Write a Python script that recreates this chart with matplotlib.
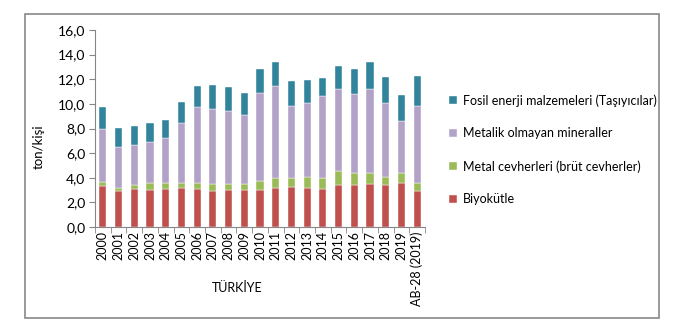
import matplotlib.pyplot as plt
from matplotlib.patches import Rectangle
import numpy as np

categories = ["2000", "2001", "2002", "2003", "2004", "2005", "2006", "2007", "2008",
              "2009", "2010", "2011", "2012", "2013", "2014", "2015", "2016", "2017",
              "2018", "2019", "AB-28 (2019)"]

biyokutle = [3.34, 2.93, 3.07, 2.99, 3.07, 3.17, 3.12, 2.93, 2.99, 3.04, 3.04,
             3.17, 3.25, 3.17, 3.07, 3.42, 3.42, 3.53, 3.42, 3.61, 2.90]
metal = [0.35, 0.27, 0.32, 0.56, 0.48, 0.44, 0.49, 0.60, 0.54, 0.49, 0.68,
         0.77, 0.77, 0.90, 0.95, 1.11, 0.97, 0.86, 0.65, 0.78, 0.65]
metalik_olmayan = [4.26, 3.28, 3.26, 3.34, 3.69, 4.80, 6.10, 6.02, 5.91, 5.53, 7.18,
                   7.48, 5.83, 5.97, 6.59, 6.67, 6.41, 6.81, 5.97, 4.18, 6.24]
fosil = [1.79, 1.58, 1.54, 1.52, 1.47, 1.76, 1.76, 1.98, 1.90, 1.79, 1.96,
         1.98, 2.03, 1.90, 1.51, 1.85, 2.06, 2.20, 2.16, 2.17, 2.49]

series = [
    ("Biyokütle", biyokutle, "#C0504D"),
    ("Metal cevherleri (brüt cevherler)", metal, "#9BBB59"),
    ("Metalik olmayan mineraller", metalik_olmayan, "#B3A2C7"),
    ("Fosil enerji malzemeleri (Taşıyıcılar)", fosil, "#31849B"),
]

plt.rcParams['font.family'] = ['Lato', 'DejaVu Sans']

W, H = 673, 329
fig = plt.figure(figsize=(W / 100, H / 100), dpi=100)
ax = fig.add_axes([95 / W, (H - 227) / H, 330 / W, 197 / H])

x = np.arange(len(categories))
bottom = np.zeros(len(categories))
handles = {}
for name, vals, color in series:
    b = ax.bar(x, vals, width=0.45, bottom=bottom, color=color,
               edgecolor="white", linewidth=0.3, label=name)
    handles[name] = b
    bottom += np.array(vals)

ax.set_xlim(-0.5, len(categories) - 0.5)
ax.set_ylim(0, 16)
ax.set_yticks(np.arange(0, 17, 2))
ax.set_yticklabels([("%.1f" % v).replace(".", ",") for v in np.arange(0, 17, 2)],
                   fontsize=10)
ax.set_xticks(x)
ax.set_xticklabels(categories, rotation=90, fontsize=9)
ax.set_xticks(np.arange(-0.5, len(categories), 1), minor=True)
ax.tick_params(axis="x", which="major", length=0, pad=3)
ax.tick_params(axis="x", which="minor", length=4, color="#868686", direction="out")
ax.tick_params(axis="y", length=4, color="#868686", pad=3)

for s in ["top", "right"]:
    ax.spines[s].set_visible(False)
for s in ["left", "bottom"]:
    ax.spines[s].set_color("#868686")
    ax.spines[s].set_linewidth(0.8)

ax.set_ylabel("ton/kişi", fontsize=9.5)
ax.yaxis.set_label_coords((45 - 95) / 330, 0.41)
fig.text(237 / W, 1 - 288 / H, "TÜRKİYE", ha="center", va="center", fontsize=9)

order = ["Fosil enerji malzemeleri (Taşıyıcılar)", "Metalik olmayan mineraller",
         "Metal cevherleri (brüt cevherler)", "Biyokütle"]
fig.legend([handles[n] for n in order], order, loc="upper left",
           bbox_to_anchor=(438 / W, 1 - 83 / H), frameon=False, fontsize=9,
           handlelength=0.6, handleheight=0.6, handletextpad=0.5, labelspacing=1.65)

fig.patches.append(Rectangle((24.5 / W, (H - 318) / H), (659 - 24.5) / W, (318 - 14) / H,
                             transform=fig.transFigure, fill=False,
                             edgecolor="#888888", linewidth=1.2))

fig.savefig("out.png", dpi=100)
